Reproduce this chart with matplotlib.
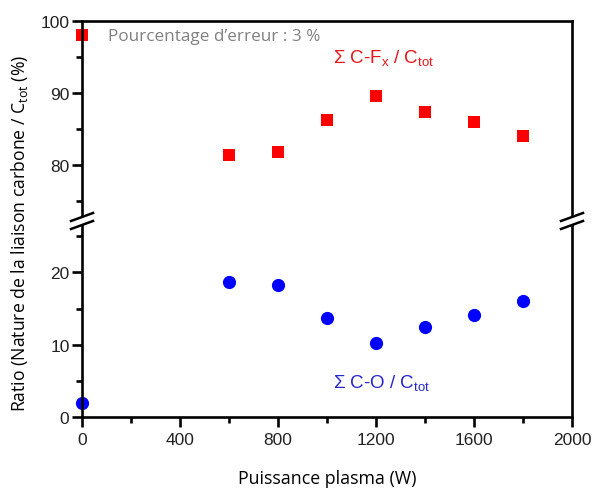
import matplotlib
matplotlib.use("Agg")
import matplotlib.pyplot as plt
from matplotlib.lines import Line2D
from matplotlib.patches import Polygon

power = [0, 600, 800, 1000, 1200, 1400, 1600, 1800]
cf_ratio = [98.0, 81.4, 81.8, 86.3, 89.6, 87.4, 85.9, 84.0]
co_ratio = [1.9, 18.7, 18.2, 13.7, 10.3, 12.5, 14.1, 16.0]
xticks = [0, 400, 800, 1200, 1600, 2000]
yticks_top = [80, 90, 100]
yticks_bot = [0, 10, 20]

plt.rcParams["font.family"] = ["Liberation Sans", "DejaVu Sans"]
plt.rcParams["mathtext.fontset"] = "custom"
plt.rcParams["mathtext.rm"] = "Liberation Sans"
plt.rcParams["mathtext.it"] = "Liberation Sans:italic"

W, H = 592, 489
fig = plt.figure(figsize=(W / 100, H / 100), dpi=100)

L, R = 82 / W, 572 / W
y_top, y_brk, y_bot = 22, 222, 418
ax_t = fig.add_axes([L, 1 - y_brk / H, R - L, (y_brk - y_top) / H])
ax_b = fig.add_axes([L, 1 - y_bot / H, R - L, (y_bot - y_brk) / H])

lab_font = ["Open Sans", "DejaVu Sans"]

ax_t.plot(power, cf_ratio, "s", color="#ff0000", markersize=8.5,
          markeredgewidth=0, clip_on=False, zorder=2)
ax_b.plot(power, co_ratio, "o", color="#0000ff", markersize=9.5,
          markeredgewidth=0, clip_on=False, zorder=2)

ax_t.set_ylim(72.2, 100)
ax_b.set_ylim(0, 27.1)
for ax in (ax_t, ax_b):
    ax.set_xlim(0, 2000)
    for s in ax.spines.values():
        s.set_linewidth(1.9)
        s.set_zorder(3)
    ax.tick_params(which="major", direction="out", length=7.5, width=1.9,
                   labelsize=12.5, right=False, top=False, pad=1.5,
                   labelcolor="#222222")
    ax.tick_params(which="minor", direction="out", length=4, width=1.9,
                   right=False, top=False)

ax_t.spines["bottom"].set_visible(False)
ax_b.spines["top"].set_visible(False)
ax_t.set_xticks([])
ax_t.tick_params(axis="x", which="both", bottom=False, labelbottom=False)
ax_t.set_yticks(yticks_top)
ax_t.set_yticks([75, 85, 95], minor=True)
ax_b.set_yticks(yticks_bot)
ax_b.set_yticks([5, 15, 25], minor=True)
ax_b.set_xticks(xticks)
ax_b.set_xticks([200, 600, 1000, 1400, 1800], minor=True)
ax_b.set_xticklabels([str(v) for v in xticks])
ax_t.set_yticklabels([str(v) for v in yticks_top])
ax_b.set_yticklabels([str(v) for v in yticks_bot])
ax_b.tick_params(axis="x", which="major", pad=3)

# break marks
def brk(xpix):
    def P(x, y):
        return (x / W, 1 - y / H)
    poly = Polygon([P(xpix - 5, 228), P(xpix + 5, 224), P(xpix + 5, 216), P(xpix - 5, 220)],
                   closed=True, transform=fig.transFigure, facecolor="white",
                   edgecolor="none", zorder=10)
    fig.add_artist(poly)
    for dy in (-4, 4):
        x0, y0 = P(xpix - 11, 226 + dy)
        x1, y1 = P(xpix + 11, 218 + dy)
        fig.add_artist(Line2D([x0, x1], [y0, y1], transform=fig.transFigure,
                              color="black", lw=1.8, zorder=11))

brk(82)
brk(572)

fig.text(108 / W, 1 - 37 / H, "Pourcentage d\u2019erreur : 3 %", color="#808080",
         fontsize=12.3, family=lab_font, va="center", ha="left")
fig.text(333 / W, 1 - 58 / H, r"$\Sigma$ C-F$_{\mathregular{x}}$ / C$_{\mathregular{tot}}$",
         color="#e8141a", fontsize=13.5, va="center", ha="left")
fig.text(333 / W, 1 - 383 / H, r"$\Sigma$ C-O / C$_{\mathregular{tot}}$",
         color="#2626d0", fontsize=13.5, va="center", ha="left")

fig.text(327 / W, 1 - 479 / H, "Puissance plasma (W)", fontsize=12.8, family=lab_font,
         ha="center", va="center")
fig.text(20 / W, 1 - 233 / H, r"Ratio (Nature de la liaison carbone / C$_{\mathregular{tot}}$ (%)",
         fontsize=12.7, family=lab_font, ha="center", va="center", rotation=90)

fig.savefig("out.png", dpi=100)
